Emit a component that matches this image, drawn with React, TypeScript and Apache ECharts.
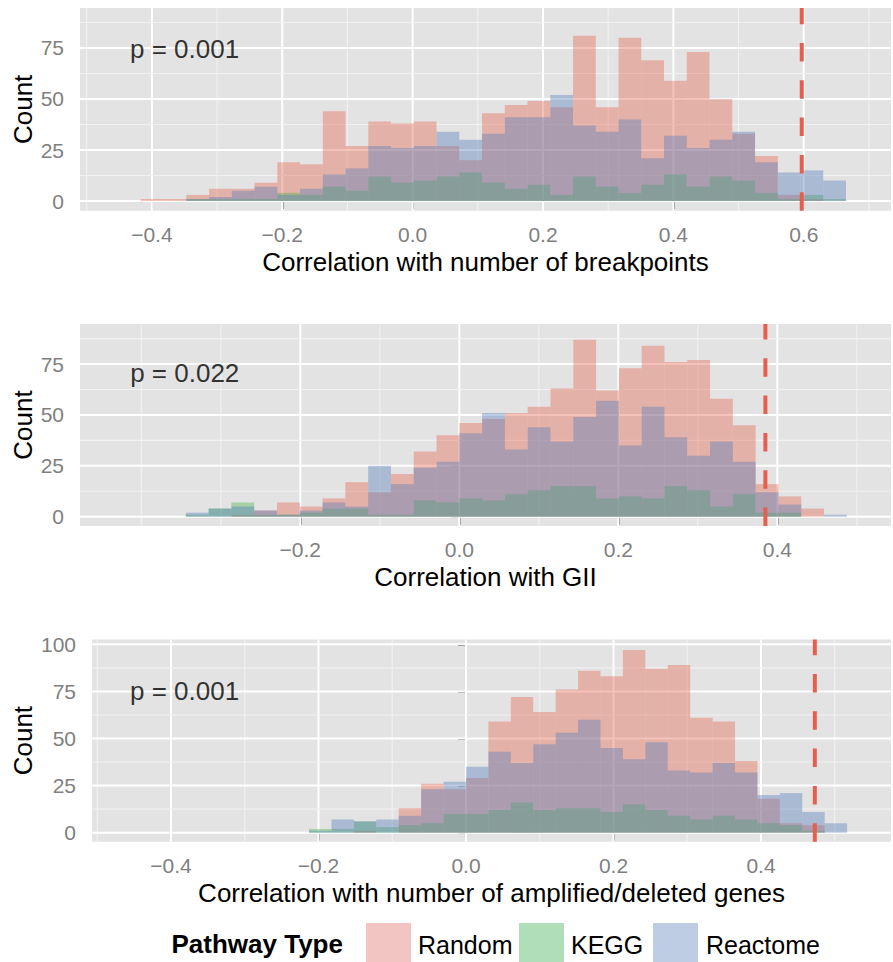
import React, { useEffect, useRef } from "react";
import * as echarts from "echarts";

const FONT = "'Liberation Sans', Arial, Helvetica, sans-serif";
const SERIES_NAMES = ["Random", "KEGG", "Reactome"];
const BAR_COLORS = ["rgba(229,103,80,0.4)", "rgba(75,180,75,0.4)", "rgba(85,125,187,0.4)"];
const KEY_COLORS = ["#F2C4C2", "#B0DEB8", "#BECDE4"];
const VLINE_COLOR = "#E4604E";
const PANEL_BG = "#E3E3E3";
const TICK_GREY = "#7F7F7F";

// ---------- Panel 1: breakpoints ----------
const breakpointsBinStart = -0.417;
const breakpointsBinWidth = 0.0349;
const breakpointsRandom = [1, 1, 3, 6, 6, 9, 19, 18, 44, 27, 39, 38, 39, 27, 20, 43, 47, 49, 46, 81, 46, 80, 69, 59, 73, 50, 33, 22, 3, 1, 0];
const breakpointsKegg = [0, 0, 1, 1, 1, 1, 4, 3, 7, 5, 12, 9, 10, 12, 14, 9, 6, 8, 3, 12, 7, 4, 8, 13, 7, 12, 10, 4, 1, 3, 1];
const breakpointsReactome = [0, 0, 1, 2, 5, 7, 3, 6, 13, 16, 27, 26, 27, 34, 30, 33, 41, 41, 52, 37, 34, 40, 21, 32, 26, 30, 34, 19, 14, 15, 10];
const breakpointsObserved = 0.597;
const breakpointsP = "p = 0.001";
const breakpointsXTicks = [-0.4, -0.2, 0, 0.2, 0.4, 0.6];
const breakpointsXMinor = [-0.5, -0.3, -0.1, 0.1, 0.3, 0.5, 0.7];
const breakpointsYTicks = [0, 25, 50, 75];
const breakpointsYMinor = [12.5, 37.5, 62.5, 87.5];

// ---------- Panel 2: GII ----------
const giiBinStart = -0.344;
const giiBinWidth = 0.02867;
const giiRandom = [0, 0, 1, 3, 7, 5, 9, 17, 12, 21, 32, 40, 46, 48, 51, 54, 63, 87, 62, 73, 84, 76, 77, 58, 45, 16, 10, 4, 0];
const giiKegg = [1, 4, 7, 1, 1, 2, 4, 4, 1, 1, 8, 7, 9, 8, 11, 13, 15, 15, 9, 10, 9, 15, 13, 5, 11, 2, 2, 0, 0];
const giiReactome = [2, 4, 5, 3, 1, 3, 7, 5, 25, 16, 24, 27, 41, 51, 33, 44, 37, 49, 57, 35, 54, 39, 30, 37, 27, 12, 6, 0, 1];
const giiObserved = 0.385;
const giiP = "p = 0.022";
const giiXTicks = [-0.2, 0, 0.2, 0.4];
const giiXMinor = [-0.4, -0.3, -0.1, 0.1, 0.3, 0.5];
const giiYTicks = [0, 25, 50, 75];
const giiYMinor = [12.5, 37.5, 62.5, 87.5];

// ---------- Panel 3: amplified/deleted genes ----------
const genesBinStart = -0.2128;
const genesBinWidth = 0.0304;
const genesRandom = [0, 0, 1, 0, 13, 26, 23, 29, 59, 72, 64, 76, 86, 83, 97, 87, 89, 61, 59, 38, 18, 5, 4, 0];
const genesKegg = [2, 2, 6, 3, 4, 5, 10, 10, 12, 16, 12, 13, 13, 11, 15, 12, 9, 7, 9, 7, 5, 4, 1, 0];
const genesReactome = [1, 7, 6, 7, 9, 23, 27, 35, 43, 37, 47, 53, 60, 45, 39, 48, 33, 32, 37, 32, 20, 21, 11, 5];
const genesObserved = 0.473;
const genesP = "p = 0.001";
const genesXTicks = [-0.4, -0.2, 0, 0.2, 0.4];
const genesXMinor = [-0.5, -0.3, -0.1, 0.1, 0.3, 0.5];
const genesYTicks = [0, 25, 50, 75, 100];
const genesYMinor = [12.5, 37.5, 62.5, 87.5];

type Panel = {
  title: string;
  binStart: number;
  binWidth: number;
  counts: number[][];
  observed: number;
  pText: string;
  pPos: number[];
  xTicks: number[];
  xMinor: number[];
  yTicks: number[];
  yMinor: number[];
  grid: { left: number; top: number; width: number; height: number };
  xRange: number[];
  yRange: number[];
  yNameGap: number;
};

const panels: Panel[] = [
  {
    title: "Correlation with number of breakpoints",
    binStart: breakpointsBinStart,
    binWidth: breakpointsBinWidth,
    counts: [breakpointsRandom, breakpointsKegg, breakpointsReactome],
    observed: breakpointsObserved,
    pText: breakpointsP,
    pPos: [-0.4336, 74.5],
    xTicks: breakpointsXTicks,
    xMinor: breakpointsXMinor,
    yTicks: breakpointsYTicks,
    yMinor: breakpointsYMinor,
    grid: { left: 80, top: 8, width: 811, height: 202.7 },
    xRange: [-0.5103, 0.7339],
    yRange: [-4.75, 94.6],
    yNameGap: 44,
  },
  {
    title: "Correlation with GII",
    binStart: giiBinStart,
    binWidth: giiBinWidth,
    counts: [giiRandom, giiKegg, giiReactome],
    observed: giiObserved,
    pText: giiP,
    pPos: [-0.414, 70.5],
    xTicks: giiXTicks,
    xMinor: giiXMinor,
    yTicks: giiYTicks,
    yMinor: giiYMinor,
    grid: { left: 80, top: 324, width: 811, height: 202 },
    xRange: [-0.4771, 0.543],
    yRange: [-4.57, 94.7],
    yNameGap: 44,
  },
  {
    title: "Correlation with number of amplified/deleted genes",
    binStart: genesBinStart,
    binWidth: genesBinWidth,
    counts: [genesRandom, genesKegg, genesReactome],
    observed: genesObserved,
    pText: genesP,
    pPos: [-0.4556, 75.2],
    xTicks: genesXTicks,
    xMinor: genesXMinor,
    yTicks: genesYTicks,
    yMinor: genesYMinor,
    grid: { left: 92, top: 639.5, width: 799, height: 202.2 },
    xRange: [-0.5071, 0.5763],
    yRange: [-4.78, 102.55],
    yNameGap: 56,
  },
];

const fmtX = (v: number) => (v < 0 ? "\u2212" + Math.abs(v).toFixed(1) : v.toFixed(1));

function buildOption() {
  const grid: any[] = [];
  const xAxis: any[] = [];
  const yAxis: any[] = [];
  const series: any[] = [];

  panels.forEach((p, pi) => {
    grid.push({
      ...p.grid,
      show: true,
      backgroundColor: PANEL_BG,
      borderWidth: 0,
      containLabel: false,
      outerBoundsMode: "none",
    });
    xAxis.push({
      type: "value",
      gridIndex: pi,
      min: p.xRange[0],
      max: p.xRange[1],
      axisLine: { show: false },
      splitLine: { show: false },
      axisTick: {
        show: true,
        customValues: p.xTicks,
        length: 8,
        lineStyle: { color: TICK_GREY, width: 2 },
      },
      axisLabel: {
        show: true,
        customValues: p.xTicks,
        formatter: (v: number) => fmtX(v),
        color: TICK_GREY,
        fontSize: 21,
        fontFamily: FONT,
        margin: 13,
      },
      name: p.title,
      nameLocation: "middle",
      nameGap: 38,
      nameMoveOverlap: false,
      nameTextStyle: { color: "#000", fontSize: 26, fontFamily: FONT },
    });
    yAxis.push({
      type: "value",
      gridIndex: pi,
      min: p.yRange[0],
      max: p.yRange[1],
      axisLine: { show: false },
      splitLine: { show: false },
      axisTick: {
        show: true,
        customValues: p.yTicks,
        length: 8,
        lineStyle: { color: TICK_GREY, width: 2 },
      },
      axisLabel: {
        show: true,
        customValues: p.yTicks,
        formatter: (v: number) => String(v),
        color: TICK_GREY,
        fontSize: 21,
        fontFamily: FONT,
        margin: 16,
      },
      name: "Count",
      nameLocation: "middle",
      nameRotate: 90,
      nameGap: p.yNameGap,
      nameMoveOverlap: false,
      nameTextStyle: { color: "#000", fontSize: 26, fontFamily: FONT },
    });

    // grid lines (minor then major)
    const xGridData = [...p.xMinor.map((v) => [v, 0]), ...p.xTicks.map((v) => [v, 1])];
    const yGridData = [...p.yMinor.map((v) => [v, 0]), ...p.yTicks.map((v) => [v, 1])];
    series.push({
      type: "custom",
      name: "xgrid" + pi,
      xAxisIndex: pi,
      yAxisIndex: pi,
      z: 1,
      silent: true,
      data: xGridData,
      encode: { x: 0 },
      renderItem: (params: any, api: any) => {
        const v = api.value(0);
        const major = api.value(1) === 1;
        const cs = params.coordSys;
        const pt = api.coord([v, 0]);
        return {
          type: "line",
          shape: { x1: pt[0], y1: cs.y, x2: pt[0], y2: cs.y + cs.height },
          style: { stroke: major ? "#FFFFFF" : "#F1F1F1", lineWidth: major ? 2 : 1.1 },
        };
      },
    });
    series.push({
      type: "custom",
      name: "ygrid" + pi,
      xAxisIndex: pi,
      yAxisIndex: pi,
      z: 1,
      silent: true,
      data: yGridData.map((d) => [p.xRange[0], d[0], d[1]]),
      encode: { x: 0, y: 1 },
      renderItem: (params: any, api: any) => {
        const v = api.value(1);
        const major = api.value(2) === 1;
        const cs = params.coordSys;
        const pt = api.coord([p.xRange[0], v]);
        return {
          type: "line",
          shape: { x1: cs.x, y1: pt[1], x2: cs.x + cs.width, y2: pt[1] },
          style: { stroke: major ? "#FFFFFF" : "#F1F1F1", lineWidth: major ? 2 : 1.1 },
        };
      },
    });

    // histogram bars
    p.counts.forEach((arr, si) => {
      const data = arr
        .map((c, i) => [p.binStart + i * p.binWidth, p.binStart + (i + 1) * p.binWidth, c])
        .filter((d) => d[2] > 0);
      const color = BAR_COLORS[si];
      series.push({
        type: "custom",
        name: SERIES_NAMES[si],
        xAxisIndex: pi,
        yAxisIndex: pi,
        z: 2 + si * 0.1,
        itemStyle: { color },
        data,
        encode: { x: [0, 1], y: 2 },
        renderItem: (params: any, api: any) => {
          const x0 = api.value(0);
          const x1 = api.value(1);
          const c = api.value(2);
          const tl = api.coord([x0, c]);
          const br = api.coord([x1, 0]);
          return {
            type: "rect",
            shape: { x: tl[0], y: tl[1], width: br[0] - tl[0], height: br[1] - tl[1] },
            style: { fill: color },
          };
        },
      });
    });

    // observed value: dashed vertical line
    series.push({
      type: "line",
      name: "observed" + pi,
      xAxisIndex: pi,
      yAxisIndex: pi,
      z: 5,
      silent: true,
      symbol: "none",
      data: [
        [p.observed, p.yRange[0]],
        [p.observed, p.yRange[1]],
      ],
      lineStyle: { color: VLINE_COLOR, width: 4, type: [18.5, 18.8] },
    });

    // p-value annotation
    series.push({
      type: "scatter",
      name: "p" + pi,
      xAxisIndex: pi,
      yAxisIndex: pi,
      z: 6,
      silent: true,
      symbolSize: 0,
      data: [p.pPos],
      label: {
        show: true,
        position: [0, 0],
        align: "left",
        verticalAlign: "middle",
        formatter: () => p.pText,
        color: "#000",
        fontSize: 26,
        fontFamily: FONT,
      },
    });
  });

  const legendY = 946;
  const keyTop = 923;
  const keySize = 46;
  const keyXs = [366, 519, 653];
  const textXs = [418, 571, 706];
  const graphic: any[] = [
    {
      type: "text",
      left: 171.5,
      top: legendY - 15,
      style: {
        text: "Pathway Type",
        fill: "#000",
        font: `bold 26px ${FONT}`,
      },
    },
  ];
  SERIES_NAMES.forEach((n, i) => {
    graphic.push({
      type: "rect",
      shape: { x: keyXs[i], y: keyTop, width: keySize - 1, height: keySize },
      style: { fill: KEY_COLORS[i] },
    });
    graphic.push({
      type: "text",
      left: textXs[i],
      top: legendY - 14,
      style: { text: n, fill: "#000", font: `25px ${FONT}` },
    });
  });

  return {
    animation: false,
    backgroundColor: "#FFFFFF",
    textStyle: { fontFamily: FONT },
    grid,
    xAxis,
    yAxis,
    series,
    graphic,
  };
}

export default function App() {
  const ref = useRef<HTMLDivElement>(null);
  useEffect(() => {
    if (!ref.current) return;
    const chart = echarts.init(ref.current, undefined, { renderer: "svg" });
    chart.setOption(buildOption() as any);
    return () => chart.dispose();
  }, []);
  return (
    <div
      ref={ref}
      style={{ position: "absolute", left: 0, top: 0, width: 893, height: 962, background: "#fff" }}
    />
  );
}
